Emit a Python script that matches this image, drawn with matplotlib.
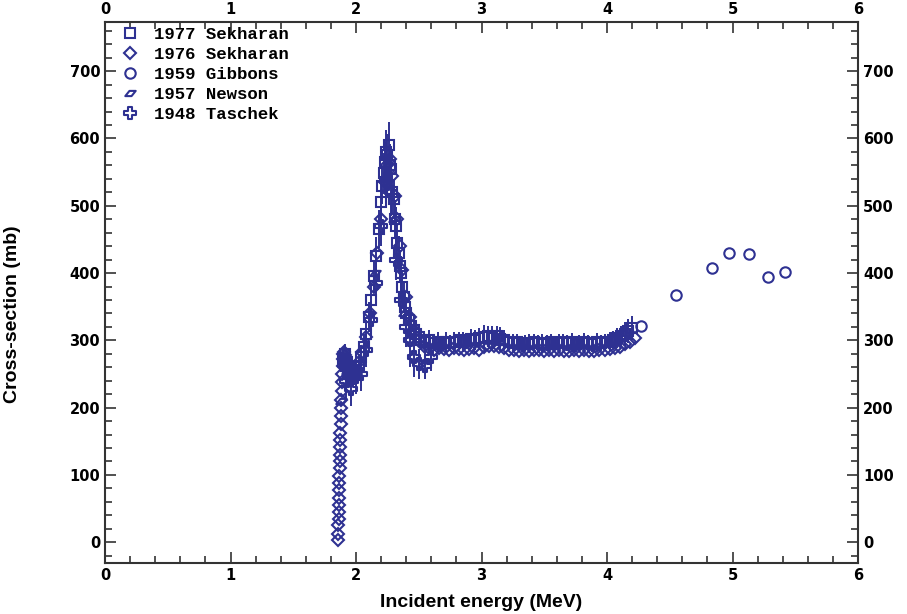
import numpy as np
import matplotlib
matplotlib.use('Agg')
import matplotlib.pyplot as plt
from matplotlib.path import Path
from matplotlib.ticker import MultipleLocator

# 1977 Sekharan (squares, with error bars)
e77 = [1.90, 1.91, 1.92, 1.93, 1.94, 1.95, 1.96, 1.97, 1.98, 1.99, 2.00, 2.02, 2.04,
       2.06, 2.08, 2.10, 2.12, 2.14, 2.16, 2.18, 2.20, 2.21, 2.22, 2.23, 2.24, 2.25,
       2.26, 2.27, 2.28, 2.29, 2.30, 2.31, 2.32, 2.33, 2.34, 2.35, 2.36, 2.37, 2.38,
       2.39, 2.40, 2.42, 2.44, 2.46, 2.48, 2.50, 2.52, 2.55, 2.58, 2.62, 2.65, 2.68,
       2.72, 2.75, 2.78, 2.82, 2.85, 2.88, 2.92, 2.95, 2.98, 3.02, 3.05, 3.08, 3.12,
       3.15, 3.18, 3.22, 3.25, 3.28, 3.32, 3.35, 3.38, 3.42, 3.45, 3.48, 3.52, 3.55,
       3.58, 3.62, 3.65, 3.68, 3.72, 3.75, 3.78, 3.82, 3.85, 3.88, 3.92, 3.95, 3.98,
       4.02, 4.05, 4.08, 4.11, 4.14, 4.17, 4.20]
s77 = [272, 280, 262, 268, 250, 258, 245, 252, 248, 256, 252, 262, 275,
       290, 310, 335, 360, 395, 425, 465, 505, 530, 548, 565, 580, 575,
       590, 560, 555, 520, 510, 480, 470, 445, 430, 410, 400, 380, 365,
       350, 340, 330, 322, 315, 310, 305, 300, 298, 300, 296, 298, 295,
       298, 296, 298, 300, 297, 299, 302, 300, 303, 305, 306, 304, 306,
       302, 300, 298, 296, 297, 295, 296, 295, 298, 296, 295, 296, 297,
       295, 296, 297, 296, 297, 295, 296, 297, 296, 295, 297, 296, 297,
       298, 300, 303, 306, 310, 314, 318]
d77 = [15, 15, 15, 15, 15, 15, 15, 15, 15, 15, 15, 18, 18,
       20, 20, 22, 24, 25, 28, 28, 28, 28, 30, 30, 32, 32,
       34, 32, 30, 30, 30, 28, 28, 28, 25, 25, 25, 22, 22,
       20, 20, 20, 18, 18, 16, 15, 15, 12, 15, 12, 14, 12,
       15, 12, 14, 12, 15, 12, 15, 15, 15, 18, 16, 18, 15,
       18, 15, 12, 14, 12, 12, 12, 14, 12, 12, 14, 12, 12,
       12, 14, 12, 12, 14, 12, 12, 14, 12, 12, 14, 12, 12,
       14, 14, 15, 16, 18, 18, 18]

# 1976 Sekharan (diamonds)
e76 = [1.856, 1.858, 1.860, 1.861, 1.862, 1.863, 1.864, 1.866, 1.867, 1.868, 1.870,
       1.871, 1.872, 1.874, 1.875, 1.876, 1.878, 1.880, 1.882, 1.884, 1.886, 1.888,
       1.890, 1.893, 1.896, 1.900, 1.905, 1.910, 1.920, 1.940, 1.960, 1.990, 2.020,
       2.050, 2.080, 2.110, 2.140, 2.170, 2.200, 2.230, 2.250, 2.270, 2.290, 2.310,
       2.330, 2.350, 2.370, 2.400, 2.430, 2.460, 2.500, 2.540, 2.580, 2.620, 2.660,
       2.700, 2.740, 2.780, 2.820, 2.860, 2.900, 2.940, 2.980, 3.020, 3.060, 3.100,
       3.140, 3.180, 3.220, 3.260, 3.300, 3.340, 3.380, 3.420, 3.460, 3.500, 3.540,
       3.580, 3.620, 3.660, 3.700, 3.740, 3.780, 3.820, 3.860, 3.900, 3.940, 3.980,
       4.020, 4.060, 4.100, 4.140, 4.180, 4.220]
s76 = [3, 12, 25, 35, 45, 55, 65, 78, 88, 98, 110,
       120, 130, 142, 152, 162, 175, 188, 200, 212, 225, 238,
       250, 262, 272, 280, 282, 278, 270, 262, 255, 258, 268,
       282, 305, 340, 380, 430, 480, 535, 560, 570, 545, 515,
       480, 440, 405, 365, 335, 315, 300, 292, 288, 286, 288,
       287, 286, 288, 287, 285, 287, 288, 286, 290, 291, 292,
       290, 288, 286, 285, 284, 285, 284, 285, 286, 284, 285,
       284, 285, 284, 284, 285, 284, 285, 284, 284, 285, 286,
       287, 288, 290, 294, 298, 304]

# 1959 Gibbons (circles)
e59 = [4.27, 4.55, 4.84, 4.97, 5.13, 5.28, 5.42]
s59 = [321, 367, 407, 430, 428, 394, 401]

# 1957 Newson (parallelograms)
e57 = [1.880, 1.900, 1.930, 1.970, 2.010, 2.150, 2.220, 2.300, 2.380]
s57 = [210, 265, 255, 240, 250, 400, 540, 480, 340]

# 1948 Taschek (crosses, with error bars)
e48 = [1.92, 1.96, 2.00, 2.04, 2.08, 2.12, 2.16, 2.20, 2.24, 2.28, 2.32,
       2.36, 2.40, 2.43, 2.46, 2.50, 2.55, 2.60]
s48 = [240, 228, 245, 250, 285, 330, 385, 470, 540, 520, 420,
       360, 320, 300, 275, 265, 262, 275]
d48 = [25, 25, 25, 25, 25, 28, 30, 30, 35, 35, 30,
       28, 30, 40, 30, 22, 20, 20]

navy = '#2e3192'

cross = Path([(-0.3, 1), (0.3, 1), (0.3, 0.3), (1, 0.3), (1, -0.3), (0.3, -0.3),
              (0.3, -1), (-0.3, -1), (-0.3, -0.3), (-1, -0.3), (-1, 0.3), (-0.3, 0.3),
              (-0.3, 1)], closed=True)
para = Path([(-1, -0.5), (-0.2, 0.5), (1, 0.5), (0.2, -0.5), (-1, -0.5)], closed=True)


def main():
    fig = plt.figure(figsize=(9.07, 6.14), dpi=100)
    ax = fig.add_axes([0.1158, 0.083, 0.8302, 0.881])

    ax.errorbar(e77, s77, yerr=d77, fmt='none', ecolor=navy, elinewidth=1.4, capsize=0)
    ax.errorbar(e48, s48, yerr=d48, fmt='none', ecolor=navy, elinewidth=1.4, capsize=0)

    mw = 1.5
    ax.plot(e77, s77, ls='none', marker='s', ms=7.5, mfc='none', mec=navy, mew=mw,
            label='1977 Sekharan')
    ax.plot(e76, s76, ls='none', marker='D', ms=6.5, mfc='none', mec=navy, mew=mw,
            label='1976 Sekharan')
    ax.plot(e59, s59, ls='none', marker='o', ms=7.5, mfc='none', mec=navy, mew=mw,
            label='1959 Gibbons')
    ax.plot(e57, s57, ls='none', marker=para, ms=7.5, mfc='none', mec=navy, mew=mw,
            label='1957 Newson')
    ax.plot(e48, s48, ls='none', marker=cross, ms=9, mfc='none', mec=navy, mew=mw,
            label='1948 Taschek')

    ax.set_xlim(0, 6)
    ax.set_ylim(-31, 773)
    ax.xaxis.set_major_locator(MultipleLocator(1))
    ax.xaxis.set_minor_locator(MultipleLocator(0.2))
    ax.yaxis.set_minor_locator(MultipleLocator(20))
    ax.set_yticks([0, 100, 200, 300, 400, 500, 600, 700])
    ax.tick_params(which='both', direction='in', top=True, right=True,
                   labeltop=True, labelright=True, color='#333333', width=1.2)
    ax.tick_params(which='major', length=8, labelsize=10.5)
    ax.tick_params(which='minor', length=5)
    for lab in ax.xaxis.get_ticklabels(which='both') + ax.yaxis.get_ticklabels(which='both'):
        lab.set_fontweight('bold')
    for sp in ax.spines.values():
        sp.set_linewidth(1.5)
        sp.set_color('#333333')

    ax.set_xlabel('Incident energy (MeV)', fontsize=14, fontweight='bold',
                  family=['Liberation Sans Narrow', 'Liberation Sans'])
    ax.set_ylabel('Cross-section (mb)', fontsize=14, fontweight='bold',
                  family=['Liberation Sans Narrow', 'Liberation Sans'])
    ax.xaxis.set_label_coords(0.5, -0.058)
    ax.yaxis.set_label_coords(-0.112, 0.46)

    ax.legend(loc='upper left', frameon=False, handlelength=1.4,
              handletextpad=0.7, labelspacing=0.27, borderaxespad=0.2,
              borderpad=0.1, bbox_to_anchor=(0.01, 1.0),
              prop={'family': 'Liberation Mono', 'weight': 'bold', 'size': 12.5})

    fig.savefig('out.png', dpi=100)


if __name__ == '__main__':
    main()
